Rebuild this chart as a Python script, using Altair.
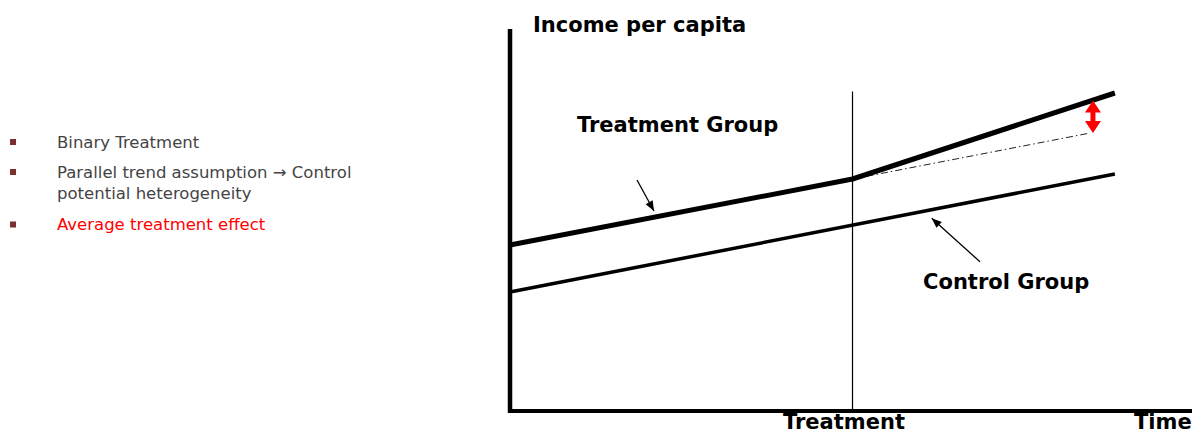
import altair as alt
import pandas as pd

# ---- Conceptual difference-in-differences diagram (time vs income per capita) ----
# Treatment group path (pre and post treatment)
treat_time = [0, 5, 8.83]
treat_income = [41.5, 58, 79.5]
# Control group path
control_time = [0, 8.83]
control_income = [29.75, 59.25]
# Counterfactual (parallel trend) for the treated group after treatment
cf_time = [5, 8.47]
cf_income = [58, 69.5]
# Treatment moment and treatment effect gap
treatment_time = 5
treatment_top = 79.9
effect_time = 8.51
effect_low = 69.5
effect_high = 77.6
# Axes extent
axis_time = [0, 9.956]
axis_income = [-0.5, 95.5]

# Bullet list text
bullet_texts = ["Binary Treatment",
                "Parallel trend assumption \u2192 Control",
                "potential heterogeneity",
                "Average treatment effect"]
bullet_colors = ["#444444", "#444444", "#444444", "#ff0000"]

# Labels
label_texts = ["Income per capita", "Treatment Group", "Control Group", "Treatment", "Time"]

# ---- annotation anchors (in data units) ----
label_t = [0.336, 0.978, 6.03, 3.985, 9.109]
label_v = [94.75, 69.75, 30.5, -4.375, -4.5]
bullet_text_t = [-6.613] * 4
bullet_text_v = [65.875, 58.375, 53.125, 45.25]
bullet_mark_t = [-7.255, -7.255, -7.255]
bullet_mark_v = [67.25, 59.75, 46.625]
pointer_tail_t = [1.854, 6.861]
pointer_tail_v = [57.75, 37.3]
pointer_tip_t = [2.102, 6.156]
pointer_tip_v = [50.0, 48.2]
pointer_angle = [151, 312]

X = alt.Scale(domain=[-7.3285, 9.956], nice=False, zero=False)
Y = alt.Scale(domain=[-5.5, 100.75], nice=False, zero=False)


def xy(t="t", v="v"):
    return dict(x=alt.X(f"{t}:Q", scale=X, axis=None),
                y=alt.Y(f"{v}:Q", scale=Y, axis=None))


treat_df = pd.DataFrame({"t": treat_time, "v": treat_income})
control_df = pd.DataFrame({"t": control_time, "v": control_income})
cf_df = pd.DataFrame({"t": cf_time, "v": cf_income})

treat_line = alt.Chart(treat_df).mark_line(
    color="black", strokeWidth=5, strokeJoin="round").encode(**xy())
control_line = alt.Chart(control_df).mark_line(
    color="black", strokeWidth=3.5).encode(**xy())
cf_line = alt.Chart(cf_df).mark_line(
    color="#222222", strokeWidth=1, strokeDash=[7, 3, 1.5, 3]).encode(**xy())

axes_df = pd.DataFrame({
    "t": [axis_time[0], axis_time[0]],
    "v": [axis_income[0], 0],
    "t2": [axis_time[0], axis_time[1]],
    "v2": [axis_income[1], 0],
    "w": [4.5, 4],
})
axes_rules = alt.Chart(axes_df).mark_rule(color="black").encode(
    **xy(), x2="t2:Q", y2="v2:Q",
    strokeWidth=alt.StrokeWidth("w:Q", scale=None))

treat_rule = alt.Chart(pd.DataFrame({"t": [treatment_time], "v": [0], "v2": [treatment_top]})).mark_rule(
    color="black", strokeWidth=1.2).encode(**xy(), y2="v2:Q")

# red double arrow showing the treatment effect
gap_df = pd.DataFrame({"t": [effect_time], "v": [effect_low + 2.8], "v2": [effect_high - 2.8]})
gap_shaft = alt.Chart(gap_df).mark_rule(color="#ff0000", strokeWidth=5).encode(**xy(), y2="v2:Q")
gap_up = alt.Chart(pd.DataFrame({"t": [effect_time], "v": [effect_high]})).mark_point(
    shape="M0,0L-1,1.5L1,1.5Z", filled=True, size=256, color="#ff0000", opacity=1,
    strokeWidth=0).encode(**xy())
gap_down = alt.Chart(pd.DataFrame({"t": [effect_time], "v": [effect_low]})).mark_point(
    shape="M0,0L-1,-1.5L1,-1.5Z", filled=True, size=256, color="#ff0000", opacity=1,
    strokeWidth=0).encode(**xy())

# thin pointer arrows
ptr_df = pd.DataFrame({"t": pointer_tail_t, "v": pointer_tail_v,
                       "t2": pointer_tip_t, "v2": pointer_tip_v, "a": pointer_angle})
ptr_lines = alt.Chart(ptr_df).mark_rule(color="black", strokeWidth=1.3).encode(
    **xy(), x2="t2:Q", y2="v2:Q")
ptr_heads = alt.Chart(ptr_df).mark_point(
    shape="M0,0L-0.4,1L0.4,1Z", filled=True, size=400, color="black", opacity=1,
    strokeWidth=0).encode(**xy("t2", "v2"), angle=alt.Angle("a:Q", scale=None))

labels_df = pd.DataFrame({"t": label_t, "v": label_v, "label": label_texts})
labels = alt.Chart(labels_df).mark_text(
    align="left", baseline="alphabetic", font="DejaVu Sans", fontSize=21,
    fontWeight="bold", color="black").encode(**xy(), text="label:N")

btext_df = pd.DataFrame({"t": bullet_text_t, "v": bullet_text_v,
                         "label": bullet_texts, "c": bullet_colors})
btext = alt.Chart(btext_df).mark_text(
    align="left", baseline="alphabetic", font="DejaVu Sans", fontSize=16.5).encode(
    **xy(), text="label:N", color=alt.Color("c:N", scale=None))

bmark = alt.Chart(pd.DataFrame({"t": bullet_mark_t, "v": bullet_mark_v})).mark_square(
    size=36, color="#7a2e2e", opacity=1).encode(**xy())

chart = alt.layer(
    axes_rules, treat_rule, control_line, cf_line, treat_line,
    gap_shaft, gap_up, gap_down, ptr_lines, ptr_heads,
    labels, btext, bmark,
).properties(
    width=1184, height=425,
    autosize=alt.AutoSizeParams(type="none"), padding=0,
).configure_view(stroke=None)

chart.save("out.html", embed_options={"renderer": "svg", "actions": False})
